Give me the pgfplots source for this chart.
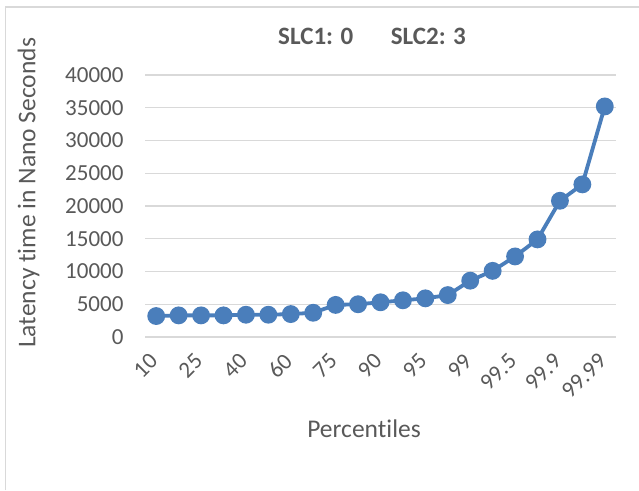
\documentclass[border=0pt]{standalone}
\usepackage{pgfplots}
\pgfplotsset{compat=1.18}
\usepackage{fontspec}
\setmainfont{Carlito}[Ligatures=NoCommon]
\definecolor{txt}{HTML}{595959}
\definecolor{gridc}{HTML}{D9D9D9}
\definecolor{line}{RGB}{74,126,187}

\begin{document}
\begin{tikzpicture}[x=1pt,y=1pt]
% chart frame (only left and top edges fall inside the picture)
\draw[gridc, line width=1.2pt] (5.5,0) -- (5.5,483) -- (639,483);
\begin{axis}[
    at={(145pt,153pt)}, anchor=south west,
    width=471pt, height=262pt, scale only axis,
    xmin=-0.5, xmax=20.5,
    ymin=0, ymax=40000,
    xtick={0,2,...,20},
    xticklabels={10,25,40,60,75,90,95,99,99.5,99.9,99.99},
    ytick={0,5000,...,40000},
    scaled y ticks=false,
    /pgf/number format/assume math mode=true,
    /pgf/number format/1000 sep={},
    axis line style={draw=none},
    major tick length=0pt,
    ymajorgrids, grid style={gridc, line width=1.2pt},
    tick label style={font=\fontsize{23}{27}\selectfont, text=txt},
    yticklabel style={anchor=east, xshift=-18pt},
    xticklabel style={xshift=0pt, yshift=-18pt, rotate=45, anchor=east},
    xlabel={Percentiles},
    ylabel={Latency time in Nano Seconds},
    label style={font=\fontsize{25.5}{30}\selectfont, text=txt},
    xlabel style={at={(axis description cs:0.465,-0.351)}, anchor=center},
    ylabel style={at={(axis description cs:-0.247,0.55)}, anchor=center, rotate=0},
    title={SLC1: 0\hspace{1.5em}SLC2: 3},
    title style={font=\bfseries\fontsize{25}{30}\selectfont, text=txt,
        at={(axis description cs:0.482,1.126)}, anchor=center},
]
\addplot[line, line width=3.8pt, mark=*, mark size=7pt, mark options={fill=line, draw=line}] coordinates {
    (0,3200) (1,3300) (2,3300) (3,3300) (4,3400) (5,3400) (6,3500)
    (7,3700) (8,4900) (9,5000) (10,5300) (11,5600) (12,5900) (13,6400)
    (14,8600) (15,10100) (16,12300) (17,14900) (18,20800) (19,23300) (20,35200)
};
\end{axis}
\pgfresetboundingbox
\useasboundingbox (0,0) rectangle (639,490);
\end{tikzpicture}
\end{document}
